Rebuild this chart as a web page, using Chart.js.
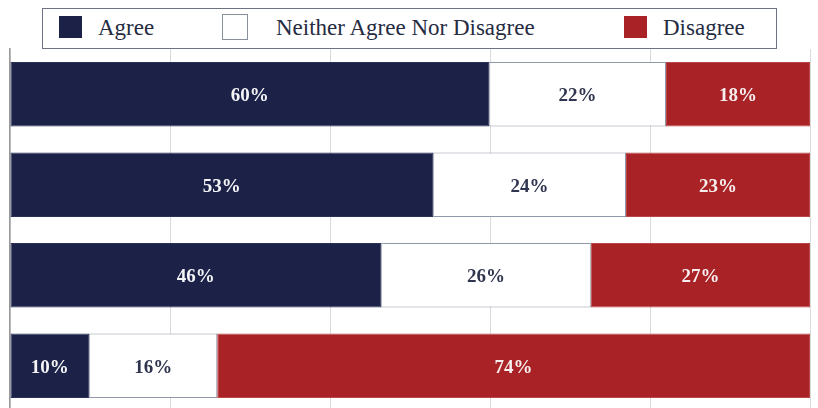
<!DOCTYPE html>
<html>
<head>
<meta charset="utf-8">
<script src="https://cdn.jsdelivr.net/npm/chart.js@4.4.1/dist/chart.umd.min.js"></script>
<style>
  html, body { margin: 0; padding: 0; background: #ffffff; overflow: hidden; width: 818px; height: 408px; }
  #wrap { position: absolute; left: 0; top: 0; width: 818px; height: 411px; }
  #legend { position: absolute; left: 42px; top: 8px; width: 733px; height: 39px; border: 1px solid #6e7384; background: #fff; z-index: 2;
            font-family: "Liberation Serif", "DejaVu Serif", serif; font-size: 23px; color: #262b42; }
  .sw { position: absolute; top: 7px; width: 23px; height: 22px; box-sizing: border-box; }
  .lt { position: absolute; top: 6px; line-height: 26px; white-space: nowrap; }
</style>
</head>
<body>
<div id="wrap"><canvas id="c"></canvas></div>
<div id="legend"></div>
<script>
const categories = ["Statement 1", "Statement 2", "Statement 3", "Statement 4"];
const seriesNames = ["Agree", "Neither Agree Nor Disagree", "Disagree"];
const agree    = [59.9, 52.9, 46.4, 9.9];
const neither  = [22.1, 24.1, 26.2, 16.0];
const disagree = [18.0, 23.0, 27.4, 74.1];
const xTicks = [0, 20, 40, 60, 80, 100];

const fillColors   = ["#1b2147", "#ffffff", "#a82226"];
const borderColors = ["#2a3058", "#9097a8", "#b8474a"];
const labelColors  = ["#f4f4f6", "#30354f", "#f6eeee"];

// HTML legend (boxed)
const legendPos = [[16, 55], [179, 233], [581, 620]];
const lg = document.getElementById('legend');
seriesNames.forEach((n, i) => {
  const s = document.createElement('div');
  s.className = 'sw';
  s.style.left = legendPos[i][0] + 'px';
  s.style.background = fillColors[i];
  s.style.border = i === 1 ? '1.5px solid #8a8f9c' : 'none';
  if (i === 1) { s.style.top = '5px'; s.style.height = '26px'; s.style.width = '26px'; }
  lg.appendChild(s);
  const t = document.createElement('div');
  t.className = 'lt';
  t.style.left = legendPos[i][1] + 'px';
  t.textContent = n;
  lg.appendChild(t);
});

const labelPlugin = {
  id: 'segLabels',
  afterDatasetsDraw(chart) {
    const ctx = chart.ctx;
    ctx.save();
    ctx.font = 'bold 19px "Liberation Serif", "DejaVu Serif", serif';
    ctx.textAlign = 'center';
    ctx.textBaseline = 'middle';
    chart.data.datasets.forEach((ds, di) => {
      const meta = chart.getDatasetMeta(di);
      meta.data.forEach((el, i) => {
        const v = ds.data[i];
        const cx = (el.x + el.base) / 2;
        ctx.fillStyle = labelColors[di];
        ctx.fillText(Math.round(v) + '%', cx, el.y + 2);
      });
    });
    ctx.restore();
  }
};

new Chart(document.getElementById('c'), {
  type: 'bar',
  data: {
    labels: categories,
    datasets: [
      { label: seriesNames[0], data: agree },
      { label: seriesNames[1], data: neither },
      { label: seriesNames[2], data: disagree }
    ].map((d, i) => Object.assign(d, {
      backgroundColor: fillColors[i],
      borderColor: borderColors[i],
      borderWidth: 1,
      borderSkipped: false,
      barPercentage: 0.71,
      categoryPercentage: 1.0
    }))
  },
  options: {
    indexAxis: 'y',
    responsive: true,
    maintainAspectRatio: false,
    animation: false,
    layout: { padding: { left: 10, right: 8, top: 49, bottom: 0 } },
    plugins: { legend: { display: false }, tooltip: { enabled: false } },
    scales: {
      x: {
        stacked: true, min: 0, max: 100,
        afterBuildTicks(axis) { axis.ticks = xTicks.map(v => ({ value: v })); },
        ticks: { display: false },
        grid: { color: '#dadada', lineWidth: 1, drawTicks: false },
        border: { display: false }
      },
      y: {
        stacked: true,
        ticks: { display: false },
        grid: { display: false, drawTicks: false },
        border: { display: true, color: '#9a9a9a', width: 1.5 }
      }
    }
  },
  plugins: [labelPlugin]
});
</script>
</body>
</html>
